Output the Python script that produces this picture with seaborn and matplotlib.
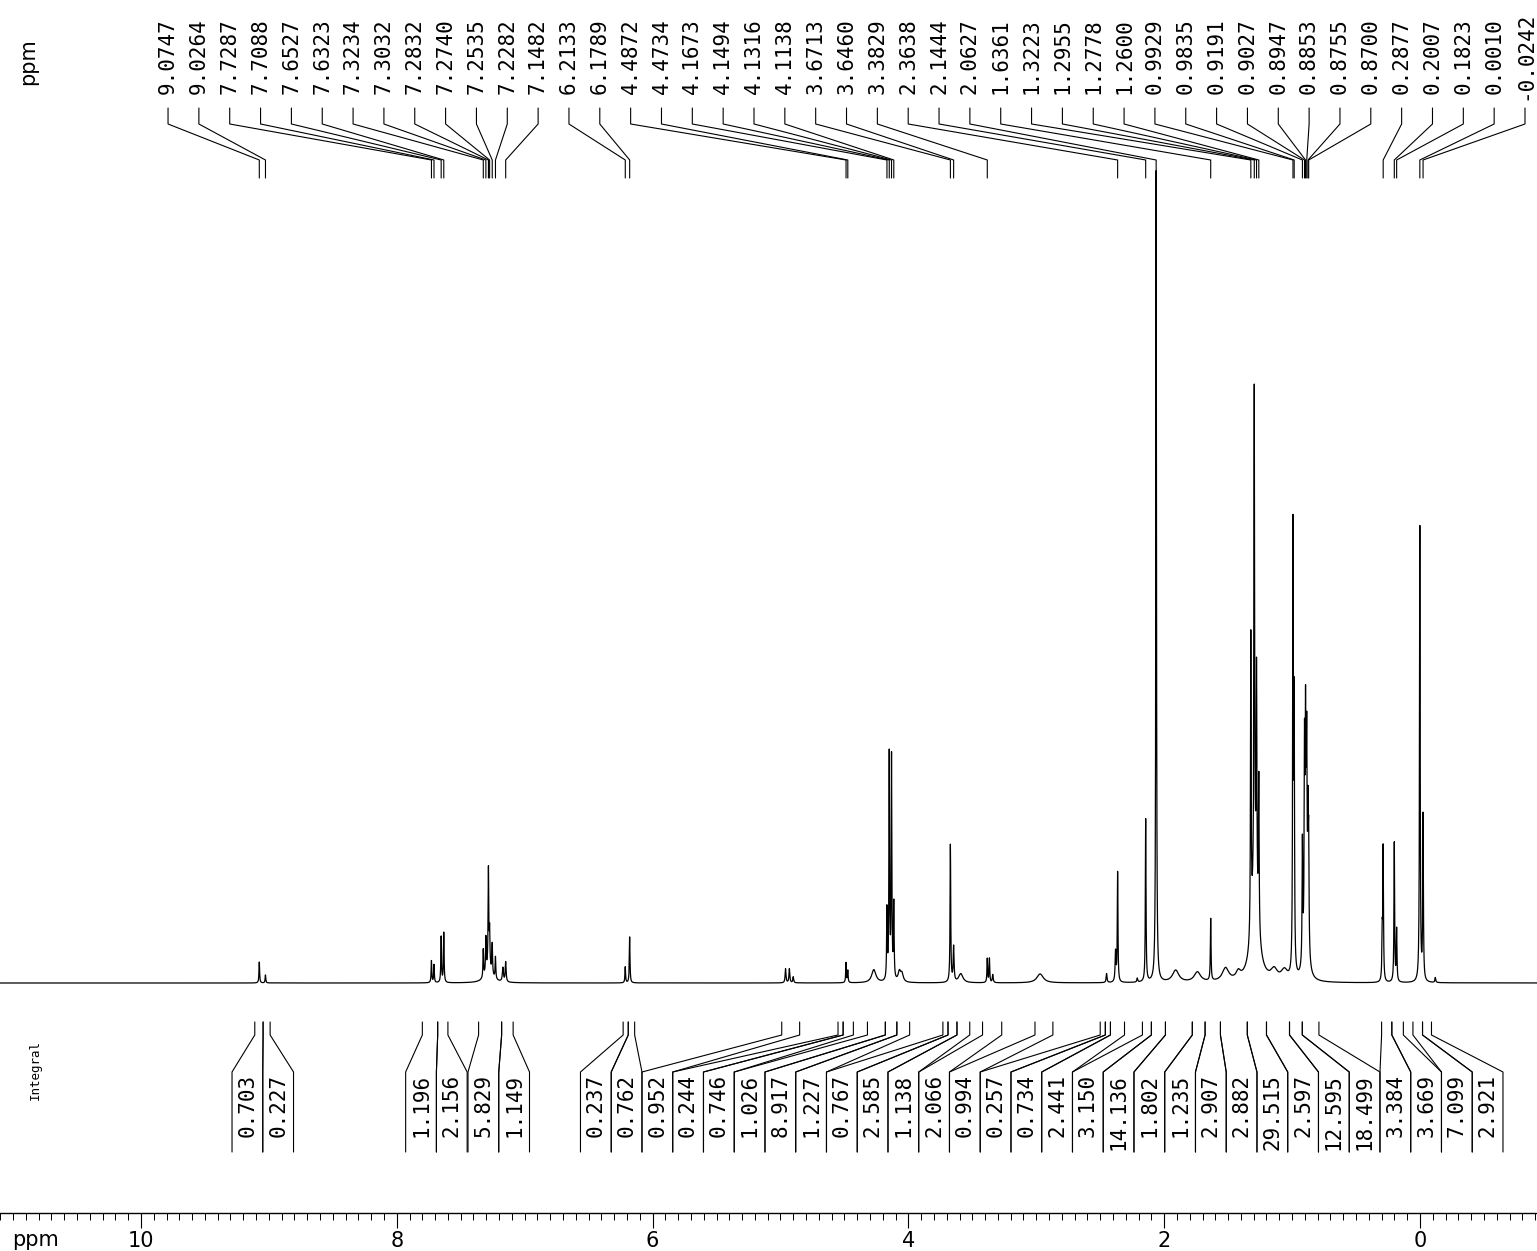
import numpy as np
import pandas as pd
import seaborn as sns
import matplotlib.pyplot as plt
from matplotlib.ticker import MultipleLocator, FixedLocator

# peak list printed above the spectrum (ppm)
peak_labels = [9.0747, 9.0264, 7.7287, 7.7088, 7.6527, 7.6323, 7.3234, 7.3032,
               7.2832, 7.2740, 7.2535, 7.2282, 7.1482, 6.2133, 6.1789, 4.4872,
               4.4734, 4.1673, 4.1494, 4.1316, 4.1138, 3.6713, 3.6460, 3.3829,
               2.3638, 2.1444, 2.0627, 1.6361, 1.3223, 1.2955, 1.2778, 1.2600,
               0.9929, 0.9835, 0.9191, 0.9027, 0.8947, 0.8853, 0.8755, 0.8700,
               0.2877, 0.2007, 0.1823, 0.0010, -0.0242]

# spectrum lines: position (ppm), height, half width (ppm)
line_ppm = [9.0747, 9.0264,
            7.7287, 7.7088, 7.6527, 7.6323,
            7.3234, 7.3032, 7.2832, 7.2740, 7.2535, 7.2282, 7.28, 7.17, 7.1482,
            6.2133, 6.1789,
            4.96, 4.93, 4.90, 4.4872, 4.4734, 4.27,
            4.1673, 4.1494, 4.1316, 4.1138, 4.07, 4.05,
            3.6713, 3.6460, 3.59, 3.3829, 3.366, 3.34, 2.97,
            2.45, 2.38, 2.3638, 2.21, 2.1444, 2.0627,
            1.91, 1.74, 1.6361, 1.52, 1.42,
            1.3223, 1.2955, 1.2778, 1.2600, 1.29, 1.14, 1.06,
            0.9929, 0.9835, 0.9191, 0.9027, 0.8947, 0.8853, 0.8755, 0.8700, 0.89,
            0.2950, 0.2877, 0.2007, 0.1823, 0.0010, -0.0242, -0.12]
line_height = [21, 8,
               22, 18, 46, 50,
               28, 35, 98, 35, 30, 22, 15, 14, 20,
               16, 46,
               14, 14, 6, 20, 12, 13,
               70, 225, 222, 75, 10, 8,
               138, 35, 9, 24, 24, 8, 9,
               9, 30, 110, 4, 163, 815,
               12, 10, 62, 13, 7,
               300, 490, 220, 150, 100, 10, 10,
               440, 260, 120, 180, 160, 140, 110, 100, 110,
               45, 133, 140, 52, 455, 165, 5]
line_width = [0.003, 0.003,
              0.003, 0.003, 0.003, 0.003,
              0.003, 0.003, 0.003, 0.003, 0.003, 0.003, 0.03, 0.005, 0.004,
              0.003, 0.003,
              0.004, 0.004, 0.004, 0.003, 0.003, 0.02,
              0.003, 0.003, 0.003, 0.003, 0.012, 0.012,
              0.003, 0.004, 0.02, 0.003, 0.003, 0.004, 0.03,
              0.004, 0.004, 0.003, 0.004, 0.003, 0.003,
              0.03, 0.03, 0.003, 0.03, 0.02,
              0.003, 0.003, 0.003, 0.003, 0.03, 0.03, 0.03,
              0.003, 0.003, 0.003, 0.003, 0.003, 0.003, 0.003, 0.003, 0.012,
              0.003, 0.003, 0.003, 0.003, 0.003, 0.003, 0.004]

# integrals: region (ppm) and value
int_from = [9.11, 9.045, 7.80, 7.68, 7.36, 7.18, 6.23, 6.19, 4.99, 4.55,
            4.51, 4.32, 4.18, 4.09, 3.73, 3.69, 3.62, 3.42, 3.01, 2.50,
            2.46, 2.42, 2.17, 2.10, 1.99, 1.78, 1.68, 1.56, 1.35, 1.20,
            1.02, 0.92, 0.30, 0.22, 0.055, -0.02]
int_to = [9.045, 8.99, 7.68, 7.60, 7.18, 7.09, 6.19, 6.14, 4.85, 4.51,
          4.43, 4.18, 4.09, 3.99, 3.69, 3.62, 3.52, 3.27, 2.87, 2.46,
          2.42, 2.31, 2.10, 1.99, 1.78, 1.68, 1.56, 1.35, 1.20, 1.02,
          0.92, 0.79, 0.22, 0.13, -0.02, -0.09]
int_value = [0.703, 0.227, 1.196, 2.156, 5.829, 1.149, 0.237, 0.762, 0.952, 0.244,
             0.746, 1.026, 8.917, 1.227, 0.767, 2.585, 1.138, 2.066, 0.994, 0.257,
             0.734, 2.441, 3.150, 14.136, 1.802, 1.235, 2.907, 2.882, 29.515, 2.597,
             12.595, 18.499, 3.384, 3.669, 7.099, 2.921]

# page geometry (pixels) and ppm range of the page
W, H = 1537, 1251
XL, XR = 11.102, -0.915
AXIS_PX = 1213
BASE_PX = 983


def ppm2px(p):
    return (XL - np.asarray(p)) / (XL - XR) * W


def px2ppm(x):
    return XL - np.asarray(x) / W * (XL - XR)


def Y(px):
    return AXIS_PX - px


def spread(want, step, hi):
    # push labels apart so they sit side by side, like the plotter does
    order = np.argsort(want)
    vals = list(np.asarray(want, dtype=float)[order])
    clusters = [[v] for v in vals]

    def start(cl):
        s = np.mean(cl) - (len(cl) - 1) * step / 2
        return min(s, hi - (len(cl) - 1) * step)

    merged = True
    while merged:
        merged = False
        for k in range(len(clusters) - 1):
            if start(clusters[k]) + len(clusters[k]) * step > start(clusters[k + 1]) + 1e-6:
                clusters[k] = clusters[k] + clusters.pop(k + 1)
                merged = True
                break
    out = []
    for cl in clusters:
        s = start(cl)
        out += [s + j * step for j in range(len(cl))]
    res = np.empty(len(vals))
    res[order] = out
    return res


# spectrum trace from the line list
grid = np.arange(XR, XL, 0.0005)
spec = np.zeros_like(grid)
for p, h, w in zip(line_ppm, line_height, line_width):
    spec += h * w ** 2 / ((grid - p) ** 2 + w ** 2)
df = pd.DataFrame({"ppm": grid, "y": Y(BASE_PX) + spec})

sns.set_theme(style="white")
plt.rcParams["font.family"] = ["DejaVu Sans"]

fig = plt.figure(figsize=(W / 100, H / 100), dpi=100)
ax = fig.add_axes([0, (H - AXIS_PX) / H, 1, AXIS_PX / H])
sns.lineplot(data=df, x="ppm", y="y", ax=ax, color="black", linewidth=0.9,
             estimator=None, errorbar=None)
ax.set_xlim(XL, XR)
ax.set_ylim(0, AXIS_PX)
ax.set_xlabel("")
ax.set_ylabel("")
for s in ["top", "left", "right"]:
    ax.spines[s].set_visible(False)
ax.spines["bottom"].set_color("black")
ax.spines["bottom"].set_linewidth(1.0)
ax.set_yticks([])
ax.xaxis.set_major_locator(FixedLocator([0, 2, 4, 6, 8, 10]))
ax.xaxis.set_minor_locator(MultipleLocator(0.1))
ax.tick_params(axis="x", which="major", direction="out", length=11, width=0.8,
               colors="black", labelsize=15, pad=2, bottom=True)
ax.tick_params(axis="x", which="minor", direction="out", length=5, width=0.7,
               colors="black", bottom=True)
ax.set_xticklabels(["0", "2", "4", "6", "8", "10"])

mono = "DejaVu Sans Mono"
lw = 0.8

# peak labels with their connector lines
lab_px = spread(ppm2px(peak_labels), 30.84, 1525)
for p, sx in zip(peak_labels, lab_px):
    ax.text(px2ppm(sx), Y(56), "%.4f" % p, rotation=90, ha="center", va="center",
            fontsize=15, family=mono, color="black")
    px_peak = ppm2px(p)
    ax.plot(px2ppm([sx, sx, px_peak, px_peak]), Y(np.array([108, 124, 160, 178])),
            color="black", lw=lw)

# integral labels with their brackets
mids = ppm2px((np.array(int_from) + np.array(int_to)) / 2)
slot = spread(mids, 30.75, 1487.6)
for a, b, v, c in zip(int_from, int_to, int_value, slot):
    for edge, se in [(a, c - 15.375), (b, c + 15.375)]:
        ex = ppm2px(edge)
        ax.plot(px2ppm([ex, ex, se, se]), Y(np.array([1022, 1035, 1072, 1152])),
                color="black", lw=lw)
    ax.text(px2ppm(c), Y(1074), "%.3f" % v, rotation=90, ha="center", va="top",
            fontsize=15, family=mono, color="black")

ax.text(px2ppm(35), Y(1070), "Integral", rotation=90, ha="center", va="center",
        fontsize=9, family=mono, color="black")
ax.text(px2ppm(28), Y(62), "ppm", rotation=90, ha="center", va="center",
        fontsize=15, color="black")
ax.text(px2ppm(12), Y(1240), "ppm", ha="left", va="center", fontsize=15,
        color="black", clip_on=False)

fig.savefig("out.png", dpi=100)
